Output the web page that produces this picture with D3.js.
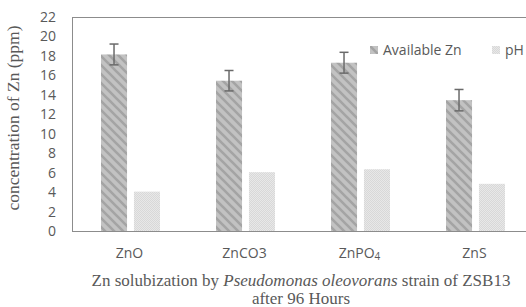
<!DOCTYPE html>
<html>
<head>
<meta charset="utf-8">
<script src="https://cdn.jsdelivr.net/npm/d3@7"></script>
<style>
  body { margin: 0; background: #fff; }
  svg { display: block; }
</style>
</head>
<body>
<svg id="chart"></svg>
<script>
'use strict';
// values
const categories = ['ZnO', 'ZnCO3', 'ZnPO4', 'ZnS'];
const seriesNames = ['Available Zn', 'pH'];
const availableZn = [18.15, 15.45, 17.3, 13.45];
const availableErr = [1.07, 1.05, 1.07, 1.1];
const phValues = [4.05, 6.05, 6.35, 4.85];
const yTicks = [0, 2, 4, 6, 8, 10, 12, 14, 16, 18, 20, 22];

const WIDTH = 526, HEIGHT = 307;
const LEFT = 72, RIGHT = 532, TOP = 17, BOTTOM = 231;
const TEXT = '#595959', AXIS = '#8c8c8c';

let svg = d3.select('#chart').attr('width', WIDTH).attr('height', HEIGHT);

// fill patterns like the excel ones
let defs = svg.append('defs');
let p1 = defs.append('pattern')
  .attr('id', 'patZn').attr('patternUnits', 'userSpaceOnUse')
  .attr('width', 9).attr('height', 9);
p1.append('rect').attr('width', 9).attr('height', 9).attr('fill', '#c2c2c2');
p1.append('path').attr('d', 'M-2,-2 L11,11 M-2,7 L2,11 M7,-2 L11,2')
  .attr('stroke', '#a4a4a4').attr('stroke-width', 2.6);

let p2 = defs.append('pattern')
  .attr('id', 'patPh').attr('patternUnits', 'userSpaceOnUse')
  .attr('width', 2).attr('height', 2);
p2.append('rect').attr('width', 2).attr('height', 2).attr('fill', '#e8e8e8');
p2.append('rect').attr('width', 1).attr('height', 1).attr('fill', '#d8d8d8');
p2.append('rect').attr('x', 1).attr('y', 1).attr('width', 1).attr('height', 1).attr('fill', '#d8d8d8');

const fills = ['url(#patZn)', 'url(#patPh)'];

let x0 = d3.scaleBand().domain(categories).range([LEFT, RIGHT]).paddingInner(0).paddingOuter(0);
let x1 = d3.scaleBand().domain(seriesNames).range([29, 88]).paddingInner(0.21).paddingOuter(0);
let y = d3.scaleLinear().domain([0, 22]).range([BOTTOM, TOP]);

// y tick labels
let yAxis = svg.append('g')
  .attr('transform', 'translate(' + LEFT + ',0)')
  .call(d3.axisLeft(y).tickValues(yTicks).tickSize(0).tickPadding(16));
yAxis.select('.domain').remove();
yAxis.selectAll('text')
  .attr('fill', TEXT)
  .attr('font-family', '"Open Sans", sans-serif')
  .attr('font-size', 14);

// frame lines: top and left
svg.append('line').attr('x1', LEFT).attr('x2', WIDTH).attr('y1', TOP + 0.5).attr('y2', TOP + 0.5)
  .attr('stroke', AXIS).attr('stroke-width', 1);
svg.append('line').attr('x1', LEFT + 0.5).attr('x2', LEFT + 0.5).attr('y1', TOP).attr('y2', BOTTOM)
  .attr('stroke', AXIS).attr('stroke-width', 1);

let rows = categories.map(function(c, i) {
  return { cat: c, vals: [availableZn[i], phValues[i]], err: availableErr[i] };
});

let group = svg.selectAll('g.grp')
  .data(rows)
  .enter()
  .append('g')
  .attr('class', 'grp')
  .attr('transform', function(d) { return 'translate(' + x0(d.cat) + ',0)'; });

group.selectAll('rect')
  .data(function(d) { return d.vals.map(function(v, k) { return { name: seriesNames[k], v: v, k: k }; }); })
  .enter()
  .append('rect')
  .attr('x', function(d) { return x1(d.name); })
  .attr('width', x1.bandwidth())
  .attr('y', function(d) { return y(d.v); })
  .attr('height', function(d) { return BOTTOM - y(d.v); })
  .attr('fill', function(d) { return fills[d.k]; });

// error bars on Available Zn
let eb = group.append('g')
  .attr('stroke', '#6a6a6a')
  .attr('stroke-width', 1.5);
let cx = x1('Available Zn') + x1.bandwidth() / 2;
eb.append('line')
  .attr('x1', cx).attr('x2', cx)
  .attr('y1', function(d) { return y(d.vals[0] + d.err); })
  .attr('y2', function(d) { return y(d.vals[0] - d.err); });
eb.append('line')
  .attr('x1', cx - 4.5).attr('x2', cx + 4.5)
  .attr('y1', function(d) { return y(d.vals[0] + d.err); })
  .attr('y2', function(d) { return y(d.vals[0] + d.err); });
eb.append('line')
  .attr('x1', cx - 4.5).attr('x2', cx + 4.5)
  .attr('y1', function(d) { return y(d.vals[0] - d.err); })
  .attr('y2', function(d) { return y(d.vals[0] - d.err); });

// x axis
let xAxis = svg.append('g')
  .attr('transform', 'translate(0,' + BOTTOM + ')')
  .call(d3.axisBottom(x0).tickSize(0).tickPadding(0));
xAxis.select('.domain').attr('stroke', AXIS).attr('d', 'M' + LEFT + ',0.5H' + RIGHT);
xAxis.selectAll('text')
  .attr('fill', TEXT)
  .attr('font-family', '"Open Sans", sans-serif')
  .attr('font-size', 14)
  .attr('dy', 0)
  .attr('y', 27)
  .each(function(d) {
    // ZnPO4 gets a subscript 4
    if (d === 'ZnPO4') {
      let t = d3.select(this).text('ZnPO');
      t.append('tspan').attr('font-size', 10).attr('dy', 2).text('4');
    }
  });

// legend
let legend = svg.append('g');
const legendX = [370, 492];
seriesNames.forEach(function(name, k) {
  legend.append('rect')
    .attr('x', legendX[k]).attr('y', 46)
    .attr('width', 8).attr('height', 8)
    .attr('fill', fills[k]);
  legend.append('text')
    .attr('x', legendX[k] + 13).attr('y', 55)
    .attr('fill', TEXT)
    .attr('font-family', '"Open Sans", sans-serif')
    .attr('font-size', 14)
    .text(name);
});

// y axis title
svg.append('text')
  .attr('transform', 'translate(19,' + ((TOP + BOTTOM) / 2 - 6) + ') rotate(-90)')
  .attr('text-anchor', 'middle')
  .attr('fill', TEXT)
  .attr('font-family', '"Liberation Serif", "Times New Roman", serif')
  .attr('font-size', 17.5)
  .text('concentration of Zn (ppm)');

// caption below the chart
let cap = svg.append('text')
  .attr('x', 301).attr('y', 286)
  .attr('text-anchor', 'middle')
  .attr('fill', TEXT)
  .attr('font-family', '"Liberation Serif", "Times New Roman", serif')
  .attr('font-size', 17);
cap.append('tspan').text('Zn solubization by ');
cap.append('tspan').attr('font-style', 'italic').text('Pseudomonas oleovorans');
cap.append('tspan').text(' strain of ZSB13');
svg.append('text')
  .attr('x', 301).attr('y', 304)
  .attr('text-anchor', 'middle')
  .attr('fill', TEXT)
  .attr('font-family', '"Liberation Serif", "Times New Roman", serif')
  .attr('font-size', 17)
  .text('after 96 Hours');
</script>
</body>
</html>
